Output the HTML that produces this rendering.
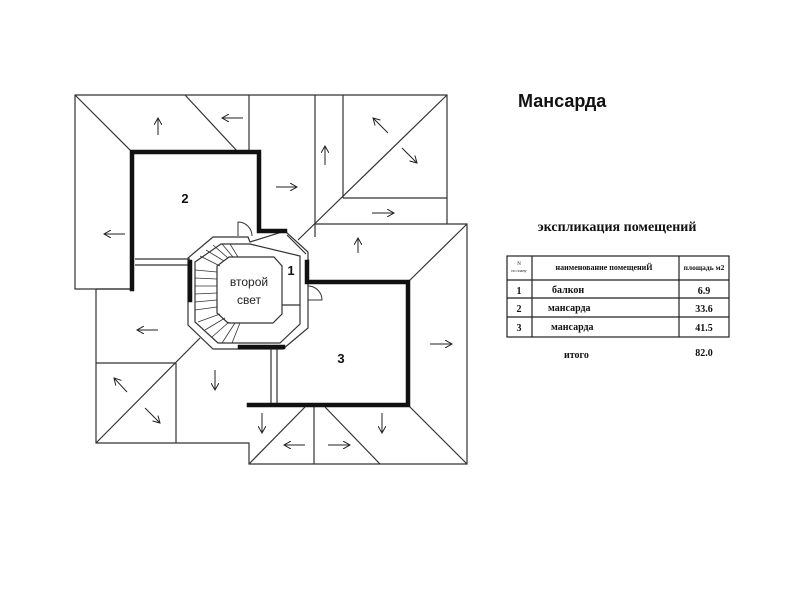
<!DOCTYPE html>
<html><head><meta charset="utf-8"><style>
html,body{margin:0;padding:0;background:#fff;}
svg{display:block;font-family:"Liberation Sans","DejaVu Sans",sans-serif;}
.t{font-family:"Liberation Serif","DejaVu Serif",serif;}
</style></head><body>
<svg width="803" height="600" viewBox="0 0 803 600" xmlns="http://www.w3.org/2000/svg">
<defs>
<marker id="ah" markerWidth="8" markerHeight="8" refX="7" refY="4" orient="auto" markerUnits="userSpaceOnUse">
<path d="M0,0 L7,4 L0,8" fill="none" stroke="#222" stroke-width="1"/>
</marker>
</defs>
<g stroke="#333" stroke-width="1.2" fill="none">
<polyline points="132,289 75,289 75,95 447,95 447,224 467,224 467,464 249,464 249,443 96,443 96,289"/>
<line x1="75" y1="95" x2="132" y2="152"/>
<line x1="185" y1="95" x2="238" y2="152"/>
<line x1="249" y1="95" x2="249" y2="152"/>
<line x1="315" y1="95" x2="315" y2="237"/>
<line x1="343" y1="95" x2="343" y2="198"/>
<line x1="343" y1="198" x2="447" y2="198"/>
<line x1="447" y1="95" x2="298" y2="240"/>
<line x1="315" y1="224" x2="447" y2="224"/>
<line x1="467" y1="224" x2="408" y2="282"/>
<line x1="467" y1="464" x2="408" y2="405"/>
<line x1="305" y1="407" x2="249" y2="464"/>
<line x1="325" y1="407" x2="380" y2="464"/>
<line x1="314" y1="407" x2="314" y2="464"/>
<line x1="96" y1="363" x2="176" y2="363"/>
<line x1="176" y1="363" x2="176" y2="443"/>
<line x1="96" y1="443" x2="200" y2="338"/>
<line x1="96" y1="289" x2="132" y2="289"/>
<line x1="135" y1="259" x2="190" y2="259"/>
<line x1="135" y1="265" x2="190" y2="265"/>
<line x1="271" y1="349" x2="271" y2="405"/>
<line x1="277" y1="349" x2="277" y2="405"/>
<polygon points="213,237 248,237 250,242 285,231 308,252 308,328 283,349 213,349 188,325 188,258"/>
<polygon points="221,244 250,244 300,256 300,324 280,343 218,343 195,322 195,262"/>
<polygon points="229,257 274,257 282,266 282,314 273,323 228,323 217,313 217,266"/>
<line x1="282" y1="305" x2="300" y2="305"/>
<line x1="287" y1="235" x2="306" y2="254"/>
</g>
<g stroke="#333" stroke-width="0.8">
<line x1="195" y1="270" x2="217" y2="272"/><line x1="195" y1="278" x2="217" y2="279"/>
<line x1="195" y1="286" x2="217" y2="286"/><line x1="195" y1="294" x2="217" y2="293"/>
<line x1="195" y1="302" x2="217" y2="300"/><line x1="195" y1="310" x2="217" y2="307"/>
<line x1="198" y1="322" x2="220" y2="314"/><line x1="205" y1="330" x2="225" y2="318"/>
<line x1="212" y1="337" x2="229" y2="322"/><line x1="222" y1="343" x2="235" y2="323"/>
<line x1="232" y1="343" x2="240" y2="323"/>
<line x1="200" y1="256" x2="220" y2="266"/><line x1="206" y1="250" x2="224" y2="261"/>
<line x1="213" y1="245" x2="228" y2="258"/><line x1="222" y1="244" x2="233" y2="257"/>
<line x1="230" y1="244" x2="238" y2="257"/>
</g>
<g stroke="#111" stroke-width="4.5" fill="none" stroke-linecap="square">
<polyline points="132,289 132,152 259,152 259,231 285,231"/>
<polyline points="307,262 307,282 408,282 408,405 249,405"/>
<line x1="190" y1="262" x2="190" y2="300"/>
<line x1="240" y1="347" x2="283" y2="347"/>
</g>
<path d="M252,236 A14,14 0 0 0 238,222 L238,236" fill="none" stroke="#333"/>
<path d="M308,286 A14,14 0 0 1 322,300 L308,300" fill="none" stroke="#333"/>
<g stroke="#222" stroke-width="1" marker-end="url(#ah)">
<line x1="158" y1="135" x2="158" y2="118"/>
<line x1="243" y1="118" x2="222" y2="118"/>
<line x1="325" y1="165" x2="325" y2="146"/>
<line x1="388" y1="133" x2="373" y2="118"/>
<line x1="402" y1="148" x2="417" y2="163"/>
<line x1="276" y1="187" x2="297" y2="187"/>
<line x1="372" y1="213" x2="394" y2="213"/>
<line x1="125" y1="234" x2="104" y2="234"/>
<line x1="358" y1="253" x2="358" y2="238"/>
<line x1="158" y1="330" x2="137" y2="330"/>
<line x1="430" y1="344" x2="452" y2="344"/>
<line x1="215" y1="370" x2="215" y2="390"/>
<line x1="127" y1="392" x2="114" y2="378"/>
<line x1="145" y1="408" x2="160" y2="423"/>
<line x1="262" y1="413" x2="262" y2="433"/>
<line x1="382" y1="413" x2="382" y2="433"/>
<line x1="305" y1="445" x2="284" y2="445"/>
<line x1="328" y1="445" x2="350" y2="445"/>
</g>
<g font-size="13" font-weight="bold" fill="#111">
<text x="185" y="203" text-anchor="middle">2</text>
<text x="291" y="275" text-anchor="middle">1</text>
<text x="341" y="363" text-anchor="middle">3</text>
</g>
<text x="249" y="286" font-size="12" text-anchor="middle" fill="#222">второй</text>
<text x="249" y="304" font-size="12" text-anchor="middle" fill="#222">свет</text>
<text x="518" y="107" font-size="18" font-weight="bold" fill="#111">Мансарда</text>
<g class="t" fill="#111">
<text x="617" y="231" font-size="14" font-weight="bold" text-anchor="middle">экспликация помещений</text>
<g stroke="#222" stroke-width="1.2" fill="none">
<rect x="507" y="256" width="222" height="81"/>
<line x1="507" y1="280" x2="729" y2="280"/>
<line x1="507" y1="298" x2="729" y2="298"/>
<line x1="507" y1="317" x2="729" y2="317"/>
<line x1="532" y1="256" x2="532" y2="337"/>
<line x1="679" y1="256" x2="679" y2="337"/>
</g>
<text x="519" y="265" font-size="5" text-anchor="middle">N</text>
<text x="519" y="272" font-size="4" text-anchor="middle">по плану</text>
<text x="604" y="270" font-size="8" text-anchor="middle" font-weight="bold">наименование помещениЙ</text>
<text x="704" y="270" font-size="7.5" text-anchor="middle" font-weight="bold">площадь м2</text>
<g font-size="10" font-weight="bold">
<text x="519" y="294" text-anchor="middle">1</text>
<text x="519" y="312" text-anchor="middle">2</text>
<text x="519" y="331" text-anchor="middle">3</text>
<text x="552" y="293">балкон</text>
<text x="548" y="311">мансарда</text>
<text x="551" y="330">мансарда</text>
<text x="704" y="294" text-anchor="middle">6.9</text>
<text x="704" y="312" text-anchor="middle">33.6</text>
<text x="704" y="331" text-anchor="middle">41.5</text>
<text x="564" y="358">итого</text>
<text x="704" y="356" text-anchor="middle">82.0</text>
</g>
</g>
</svg>
</body></html>
